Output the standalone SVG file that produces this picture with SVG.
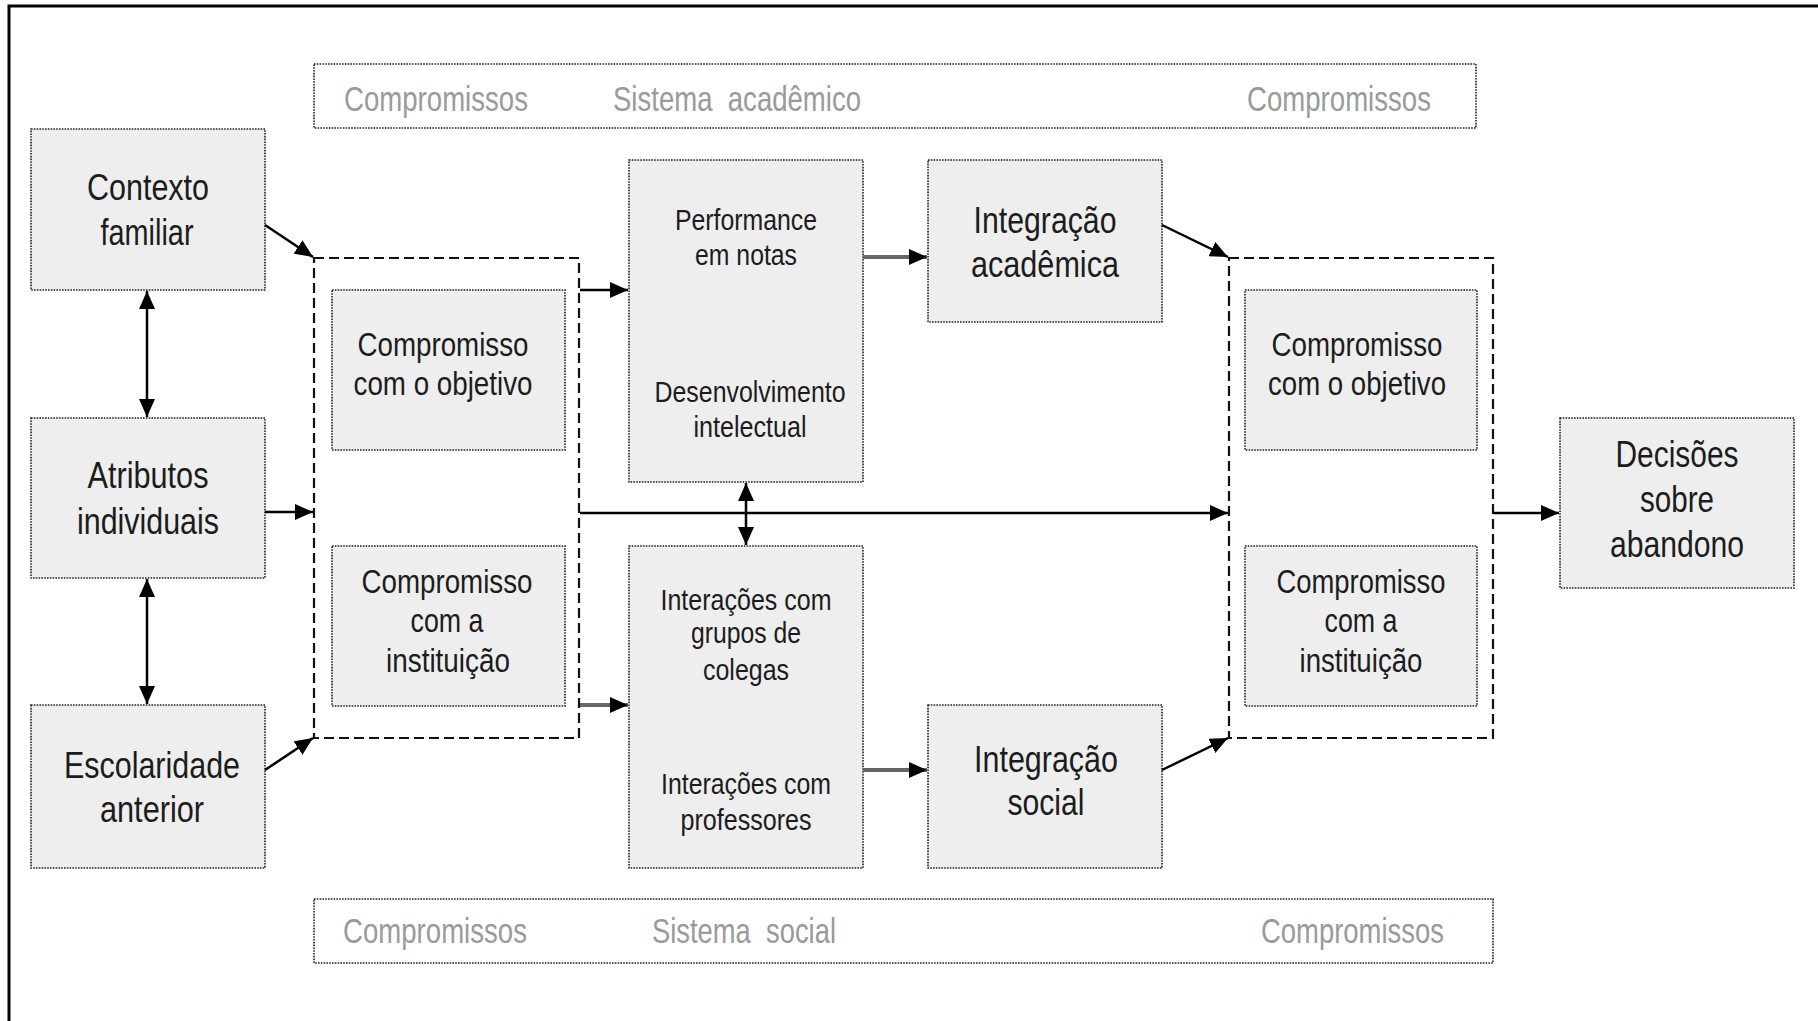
<svg xmlns="http://www.w3.org/2000/svg" width="1818" height="1021" viewBox="0 0 1818 1021">
  <defs>
    <marker id="ah" viewBox="0 0 18 16" refX="18" refY="8" markerWidth="18" markerHeight="16" markerUnits="userSpaceOnUse" orient="auto-start-reverse">
      <path d="M0,0 L18,8 L0,16 z" fill="#000"/>
    </marker>
    <style>
      .box { fill: #eeeeee; stroke: #222; stroke-width: 1.6; stroke-dasharray: 1.6 1.2; }
      .banner { fill: #ffffff; stroke: #222; stroke-width: 1.6; stroke-dasharray: 1.6 1.2; }
      .group { fill: none; stroke: #111; stroke-width: 2.2; stroke-dasharray: 10 5; }
      .t { font-family: "Liberation Sans Narrow", "Arial Narrow", "Liberation Sans", Arial, sans-serif; fill: #1c1c1c; text-anchor: middle; }
      .big { font-size: 37px; }
      .mid { font-size: 34px; }
      .sm { font-size: 30px; }
      .bt { font-family: "Liberation Sans Narrow", "Arial Narrow", "Liberation Sans", Arial, sans-serif; fill: #9a9a9a; font-size: 35px; white-space: pre; }
      .c { fill: none; stroke: #000; stroke-width: 2.5; }
      .cg { fill: none; stroke: #666; stroke-width: 4; }
    </style>
  </defs>
  <rect x="0" y="0" width="1818" height="1021" fill="#ffffff"/>
  <path d="M9,1021 V6 H1818" fill="none" stroke="#000" stroke-width="3"/>

  <g id="banner-academico">
    <rect class="banner" x="314" y="64" width="1162" height="64"/>
    <text class="bt" x="344" y="111" textLength="184" lengthAdjust="spacingAndGlyphs">Compromissos</text>
    <text class="bt" x="613" y="111" textLength="248" lengthAdjust="spacingAndGlyphs" xml:space="preserve">Sistema  acadêmico</text>
    <text class="bt" x="1247" y="111" textLength="184" lengthAdjust="spacingAndGlyphs">Compromissos</text>
  </g>

  <g id="banner-social">
    <rect class="banner" x="314" y="899" width="1179" height="64"/>
    <text class="bt" x="343" y="943" textLength="184" lengthAdjust="spacingAndGlyphs">Compromissos</text>
    <text class="bt" x="652" y="943" textLength="184" lengthAdjust="spacingAndGlyphs" xml:space="preserve">Sistema  social</text>
    <text class="bt" x="1261" y="943" textLength="183" lengthAdjust="spacingAndGlyphs">Compromissos</text>
  </g>

  <g id="contexto-familiar">
    <rect class="box" x="31" y="129" width="234" height="161"/>
    <text class="t big" x="148" y="200" textLength="122" lengthAdjust="spacingAndGlyphs">Contexto</text>
    <text class="t big" x="147" y="245" textLength="93" lengthAdjust="spacingAndGlyphs">familiar</text>
  </g>

  <g id="atributos-individuais">
    <rect class="box" x="31" y="418" width="234" height="160"/>
    <text class="t big" x="148" y="488" textLength="121" lengthAdjust="spacingAndGlyphs">Atributos</text>
    <text class="t big" x="148" y="534" textLength="142" lengthAdjust="spacingAndGlyphs">individuais</text>
  </g>

  <g id="escolaridade-anterior">
    <rect class="box" x="31" y="705" width="234" height="163"/>
    <text class="t big" x="152" y="778" textLength="176" lengthAdjust="spacingAndGlyphs">Escolaridade</text>
    <text class="t big" x="152" y="822" textLength="104" lengthAdjust="spacingAndGlyphs">anterior</text>
  </g>

  <g id="compromissos-iniciais">
    <rect class="group" x="314" y="258" width="265" height="480"/>
  </g>

  <g id="compromisso-objetivo-1">
    <rect class="box" x="332" y="290" width="233" height="160"/>
    <text class="t mid" x="443" y="356" textLength="171" lengthAdjust="spacingAndGlyphs">Compromisso</text>
    <text class="t mid" x="443" y="395" textLength="179" lengthAdjust="spacingAndGlyphs">com o objetivo</text>
  </g>

  <g id="compromisso-instituicao-1">
    <rect class="box" x="332" y="546" width="233" height="160"/>
    <text class="t mid" x="447" y="593" textLength="171" lengthAdjust="spacingAndGlyphs">Compromisso</text>
    <text class="t mid" x="447" y="632" textLength="73" lengthAdjust="spacingAndGlyphs">com a</text>
    <text class="t mid" x="448" y="672" textLength="124" lengthAdjust="spacingAndGlyphs">instituição</text>
  </g>

  <g id="performance-desenvolvimento">
    <rect class="box" x="629" y="160" width="234" height="322"/>
    <text class="t sm" x="746" y="230" textLength="142" lengthAdjust="spacingAndGlyphs">Performance</text>
    <text class="t sm" x="746" y="265" textLength="102" lengthAdjust="spacingAndGlyphs">em notas</text>
    <text class="t sm" x="750" y="402" textLength="191" lengthAdjust="spacingAndGlyphs">Desenvolvimento</text>
    <text class="t sm" x="750" y="437" textLength="113" lengthAdjust="spacingAndGlyphs">intelectual</text>
  </g>

  <g id="interacoes">
    <rect class="box" x="629" y="546" width="234" height="322"/>
    <text class="t sm" x="746" y="610" textLength="171" lengthAdjust="spacingAndGlyphs">Interações com</text>
    <text class="t sm" x="746" y="643" textLength="110" lengthAdjust="spacingAndGlyphs">grupos de</text>
    <text class="t sm" x="746" y="680" textLength="86" lengthAdjust="spacingAndGlyphs">colegas</text>
    <text class="t sm" x="746" y="794" textLength="170" lengthAdjust="spacingAndGlyphs">Interações com</text>
    <text class="t sm" x="746" y="830" textLength="131" lengthAdjust="spacingAndGlyphs">professores</text>
  </g>

  <g id="integracao-academica">
    <rect class="box" x="928" y="160" width="234" height="162"/>
    <text class="t big" x="1045" y="233" textLength="143" lengthAdjust="spacingAndGlyphs">Integração</text>
    <text class="t big" x="1045" y="277" textLength="148" lengthAdjust="spacingAndGlyphs">acadêmica</text>
  </g>

  <g id="integracao-social">
    <rect class="box" x="928" y="705" width="234" height="163"/>
    <text class="t big" x="1046" y="772" textLength="144" lengthAdjust="spacingAndGlyphs">Integração</text>
    <text class="t big" x="1046" y="815" textLength="77" lengthAdjust="spacingAndGlyphs">social</text>
  </g>

  <g id="compromissos-finais">
    <rect class="group" x="1229" y="258" width="264" height="480"/>
  </g>

  <g id="compromisso-objetivo-2">
    <rect class="box" x="1245" y="290" width="232" height="160"/>
    <text class="t mid" x="1357" y="356" textLength="171" lengthAdjust="spacingAndGlyphs">Compromisso</text>
    <text class="t mid" x="1357" y="395" textLength="178" lengthAdjust="spacingAndGlyphs">com o objetivo</text>
  </g>

  <g id="compromisso-instituicao-2">
    <rect class="box" x="1245" y="546" width="232" height="160"/>
    <text class="t mid" x="1361" y="593" textLength="169" lengthAdjust="spacingAndGlyphs">Compromisso</text>
    <text class="t mid" x="1361" y="632" textLength="73" lengthAdjust="spacingAndGlyphs">com a</text>
    <text class="t mid" x="1361" y="672" textLength="123" lengthAdjust="spacingAndGlyphs">instituição</text>
  </g>

  <g id="decisoes-abandono">
    <rect class="box" x="1560" y="418" width="234" height="170"/>
    <text class="t big" x="1677" y="467" textLength="123" lengthAdjust="spacingAndGlyphs">Decisões</text>
    <text class="t big" x="1677" y="512" textLength="74" lengthAdjust="spacingAndGlyphs">sobre</text>
    <text class="t big" x="1677" y="557" textLength="134" lengthAdjust="spacingAndGlyphs">abandono</text>
  </g>

  <g id="connectors">
    <line class="c" x1="147" y1="291" x2="147" y2="417" marker-start="url(#ah)" marker-end="url(#ah)"/>
    <line class="c" x1="147" y1="579" x2="147" y2="704" marker-start="url(#ah)" marker-end="url(#ah)"/>
    <line class="c" x1="265" y1="225" x2="313" y2="257" marker-end="url(#ah)"/>
    <line class="c" x1="265" y1="512" x2="313" y2="512" marker-end="url(#ah)"/>
    <line class="c" x1="265" y1="770" x2="313" y2="738" marker-end="url(#ah)"/>
    <line class="c" x1="580" y1="290" x2="628" y2="290" marker-end="url(#ah)"/>
    <line class="cg" x1="580" y1="705" x2="628" y2="705" marker-end="url(#ah)"/>
    <line class="cg" x1="863" y1="257" x2="927" y2="257" marker-end="url(#ah)"/>
    <line class="cg" x1="863" y1="770" x2="927" y2="770" marker-end="url(#ah)"/>
    <line class="c" x1="1162" y1="225" x2="1228" y2="257" marker-end="url(#ah)"/>
    <line class="c" x1="1162" y1="770" x2="1228" y2="738" marker-end="url(#ah)"/>
    <line class="c" x1="580" y1="513" x2="1228" y2="513" stroke-width="3" marker-end="url(#ah)"/>
    <line class="c" x1="746" y1="483" x2="746" y2="545" marker-start="url(#ah)" marker-end="url(#ah)"/>
    <line class="c" x1="1493" y1="513" x2="1559" y2="513" marker-end="url(#ah)"/>
  </g>
</svg>
